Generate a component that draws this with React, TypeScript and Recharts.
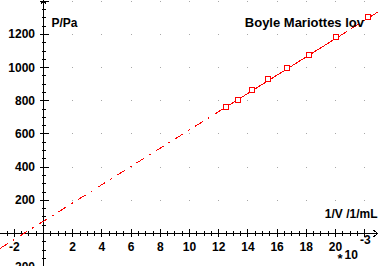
import React from 'react';
import {
  ComposedChart,
  Line,
  Scatter,
  XAxis,
  YAxis,
  ReferenceLine,
  ReferenceDot,
} from 'recharts';

// measured points, 1/V in 10^-3 1/mL, P in Pa
const invVolume = [12.5, 13.33, 14.29, 15.38, 16.67, 18.18, 20, 22.22];
const pressure = [762, 808, 867, 929, 997, 1075, 1184, 1305];

// fitted line (dash-dot over the full width, solid over the data span)
const fitInvVolume = [-2.98, 22.91];
const fitPressure = [-90, 1336];
const fitSolidInvVolume = [11.8, 20.8];
const fitSolidPressure = [724, 1219];

const xTickMajor = [-2, 2, 4, 6, 8, 10, 12, 14, 16, 18, 20, 22];
const xTickLabels = [-2, 2, 4, 6, 8, 10, 12, 14, 16, 18, 20];
const yTickMajor = [-200, 200, 400, 600, 800, 1000, 1200, 1400];
const yTickLabels = [-200, 200, 400, 600, 800, 1000, 1200];
const xGrid = [2, 4, 6, 8, 10, 12, 14, 16, 18, 20, 22];
const yGrid = [200, 400, 600, 800, 1000, 1200, 1400];

const xTickMinor: number[] = [];
for (let v = -2.5; v <= 22; v += 0.5) if (v % 2 !== 0) xTickMinor.push(v);
const yTickMinor: number[] = [];
for (let v = -150; v <= 1400; v += 50) if (v % 200 !== 0) yTickMinor.push(v);

const points = invVolume.map((x, i) => ({ x, y: pressure[i] }));
const fit = fitInvVolume.map((x, i) => ({ x, y: fitPressure[i] }));
const fitSolid = fitSolidInvVolume.map((x, i) => ({ x, y: fitSolidPressure[i] }));

const RED = '#ff0000';
const FONT = "'Liberation Sans', Arial, sans-serif";
const W = 378;
const H = 266;

// tick lengths in data units (px / scale)
const X_PER_PX = 25.89 / W;
const Y_PER_PX = 1604 / H;

const Square = (props: any) => (
  <rect x={props.cx - 2.5} y={props.cy - 2.5} width={5} height={5} fill="#fff" stroke={RED} />
);

const xLabel = (v: number) => (props: any) => (
  <text x={props.cx} y={props.cy + 17.5} textAnchor="middle" fontFamily={FONT} fontWeight="bold" fontSize={12} fill="#000">
    {v}
  </text>
);

const yLabel = (v: number) => (props: any) => (
  <text x={props.cx - 8.5} y={props.cy + 4} textAnchor="end" fontFamily={FONT} fontWeight="bold" fontSize={12} fill="#000">
    {v}
  </text>
);

const gridDot = (props: any) => (
  <rect x={props.cx - 0.5} y={props.cy - 0.5} width={1} height={1} fill="#a8a8a8" />
);

export default function App() {
  const seg = (a: [number, number], b: [number, number], key: string) => (
    <ReferenceLine
      key={key}
      segment={[{ x: a[0], y: a[1] }, { x: b[0], y: b[1] }]}
      stroke="#000"
      strokeWidth={1}
      ifOverflow="visible"
    />
  );

  return (
    <div style={{ position: 'absolute', left: 0, top: 0, width: W, height: H, background: '#fff' }}>
      <style>{`body{margin:0} .recharts-surface line, .recharts-surface path, .recharts-surface rect { shape-rendering: crispEdges; }`}</style>
      <ComposedChart width={W} height={H} margin={{ top: 0, right: 0, bottom: 0, left: 0 }}>
        <XAxis type="number" dataKey="x" domain={[-2.979, 22.911]} hide />
        <YAxis type="number" dataKey="y" domain={[-196, 1408]} hide />

        {xGrid.flatMap((gx) =>
          yGrid.map((gy) => (
            <ReferenceDot key={`g${gx}-${gy}`} x={gx} y={gy} r={1} shape={gridDot} ifOverflow="visible" />
          ))
        )}

        {/* axes */}
        {seg([-2.979, 0], [22.911, 0], 'xaxis')}
        {seg([0, -196], [0, 1408], 'yaxis')}
        {seg([22.911 - 5 * X_PER_PX, 3.5 * Y_PER_PX], [22.911, 0], 'xa1')}
        {seg([22.911 - 5 * X_PER_PX, -3.5 * Y_PER_PX], [22.911, 0], 'xa2')}
        {seg([-2.7 * X_PER_PX, 1408 - 4.5 * Y_PER_PX], [0, 1408], 'ya1')}
        {seg([2.7 * X_PER_PX, 1408 - 4.5 * Y_PER_PX], [0, 1408], 'ya2')}

        {xTickMajor.map((t) => seg([t, -4 * Y_PER_PX], [t, 4.3 * Y_PER_PX], `xM${t}`))}
        {xTickMinor.map((t) => seg([t, -2.4 * Y_PER_PX], [t, 2.6 * Y_PER_PX], `xm${t}`))}
        {yTickMajor.map((t) => seg([-3.4 * X_PER_PX, t], [5.4 * X_PER_PX, t], `yM${t}`))}
        {yTickMinor.map((t) => seg([-2 * X_PER_PX, t], [2.1 * X_PER_PX, t], `ym${t}`))}

        {xTickLabels.map((t) => (
          <ReferenceDot key={`xl${t}`} x={t} y={0} r={0} shape={xLabel(t)} ifOverflow="visible" />
        ))}
        {yTickLabels.map((t) => (
          <ReferenceDot key={`yl${t}`} x={0} y={t} r={0} shape={yLabel(t)} ifOverflow="visible" />
        ))}

        <Line
          data={fit}
          dataKey="y"
          stroke={RED}
          strokeWidth={1}
          strokeDasharray="9 6 2 6"
          dot={false}
          activeDot={false}
          isAnimationActive={false}
        />
        <Line
          data={fitSolid}
          dataKey="y"
          stroke={RED}
          strokeWidth={1}
          dot={false}
          activeDot={false}
          isAnimationActive={false}
        />
        <Scatter data={points} dataKey="y" shape={Square} isAnimationActive={false} />
      </ComposedChart>

      <svg
        width={W}
        height={H}
        style={{ position: 'absolute', left: 0, top: 0, pointerEvents: 'none' }}
        fontFamily={FONT}
        fontWeight="bold"
        fill="#000"
      >
        <text x={51.5} y={26.5} fontSize={12}>P/Pa</text>
        <text x={364} y={26.5} fontSize={13} textAnchor="end">Boyle Mariottes lov</text>
        <text x={377.5} y={218} fontSize={12} textAnchor="end">1/V /1/mL</text>
        <text x={337.5} y={263} fontSize={13}>*</text>
        <text x={344.5} y={259} fontSize={12}>10</text>
        <text x={360} y={243.5} fontSize={12}>-3</text>
      </svg>
    </div>
  );
}
